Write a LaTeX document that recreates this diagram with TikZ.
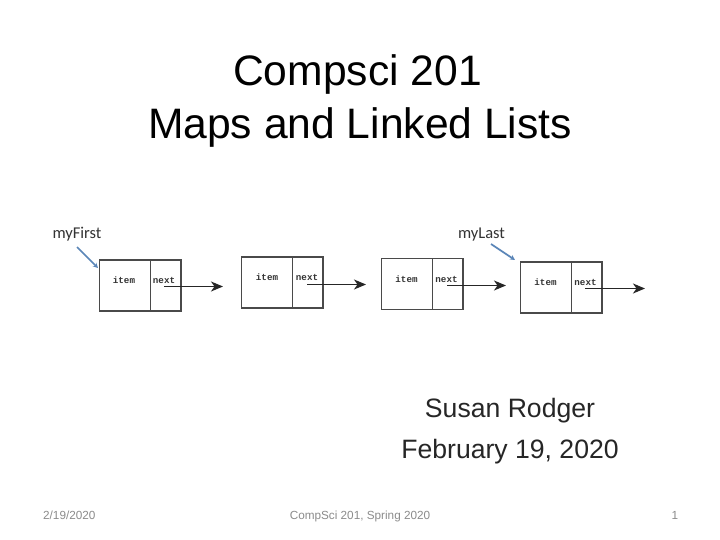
\documentclass[tikz,border=0pt]{standalone}
\usepackage{fontspec}
\setmainfont{Liberation Sans}
\newfontfamily\diagfont{Carlito}
\newfontfamily\cellfont{Liberation Mono}
\usetikzlibrary{arrows.meta}
\definecolor{boxgray}{HTML}{4A4A4A}
\definecolor{ptrblue}{HTML}{5B86B8}
\definecolor{footgray}{HTML}{8C8C8C}
\tikzset{
  x=1pt,y=-1pt,
  titletext/.style={font=\fontsize{42.6}{42.6}\selectfont,text=black,inner sep=0pt,anchor=base},
  subtext/.style={font=\fontsize{26.6}{26.6}\selectfont,text=black!85,inner sep=0pt,anchor=base},
  foottext/.style={font=\fontsize{11.75}{13}\selectfont,text=footgray,inner sep=0pt,anchor=base},
  labeltext/.style={font=\diagfont\fontsize{16.5}{18}\selectfont,text=black!80,inner sep=0pt,anchor=base},
  itemcell/.style={draw=boxgray,line width=1.5pt,minimum width=51pt,minimum height=51pt,inner sep=0pt,outer sep=0pt},
  nextcell/.style={draw=boxgray,line width=1.5pt,minimum width=30.5pt,minimum height=51pt,inner sep=0pt,outer sep=0pt},
  celltext/.style={font=\cellfont\bfseries\fontsize{9.2}{9.2}\selectfont,text=black!80,inner sep=0pt,anchor=base},
  linkarrow/.style={draw=black!85,line width=1.5pt,-{Stealth[length=12pt,width=10pt,inset=3.5pt]}},
  ptrarrow/.style={draw=ptrblue,line width=1.7pt,-{Stealth[length=5pt,width=5pt]}}
}
\begin{document}
\begin{tikzpicture}
\useasboundingbox (0,0) rectangle (720,540);
\fill[white] (0,0) rectangle (720,540);
\node[titletext] (t1) at (357.5,86) {Compsci 201};
\node[titletext] (t2) at (360,139) {Maps and Linked Lists};

\node[labeltext] (myfirst) at (77,238) {myFirst};
\node[labeltext] (mylast) at (481.5,238) {myLast};

% list nodes
\node[itemcell] (i1) at (125,285.5) {};
\node[nextcell] (n1) at (165.5,285.5) {};
\node[itemcell] (i2) at (267,282.5) {};
\node[nextcell] (n2) at (307.5,282.5) {};
\node[itemcell] (i3) at (407,284) {};
\node[nextcell] (n3) at (447.5,284) {};
\node[itemcell] (i4) at (546,287.5) {};
\node[nextcell] (n4) at (586.5,287.5) {};

\node[celltext] (it1) at (124,283.5) {item};
\node[celltext] (nt1) at (164,283.5) {next};
\node[celltext] (it2) at (267,280.5) {item};
\node[celltext] (nt2) at (307,280.5) {next};
\node[celltext] (it3) at (406.5,282) {item};
\node[celltext] (nt3) at (446.5,282) {next};
\node[celltext] (it4) at (545.5,285.5) {item};
\node[celltext] (nt4) at (585.5,285.5) {next};

\coordinate (s1) at (164,286.5);
\coordinate (e1) at (223,286.5);
\coordinate (s2) at (307,284.5);
\coordinate (e2) at (366,284.5);
\coordinate (s3) at (447,285.5);
\coordinate (e3) at (506,285.5);
\coordinate (s4) at (585,288.5);
\coordinate (e4) at (645,288.5);
\draw[linkarrow] (s1) -- (e1);
\draw[linkarrow] (s2) -- (e2);
\draw[linkarrow] (s3) -- (e3);
\draw[linkarrow] (s4) -- (e4);

\coordinate (pf) at (77,247);
\coordinate (pfe) at (98,268);
\coordinate (pl) at (491,244);
\coordinate (ple) at (515,260);
\draw[ptrarrow] (pf) -- (pfe);
\draw[ptrarrow] (pl) -- (ple);

\node[subtext] (s1t) at (510,417) {Susan Rodger};
\node[subtext] (s2t) at (510,458) {February 19, 2020};

\node[foottext,anchor=base west] (d) at (43,519) {2/19/2020};
\node[foottext] (c) at (360,519) {CompSci 201, Spring 2020};
\node[foottext] (p) at (675,519) {1};
\end{tikzpicture}
\end{document}
